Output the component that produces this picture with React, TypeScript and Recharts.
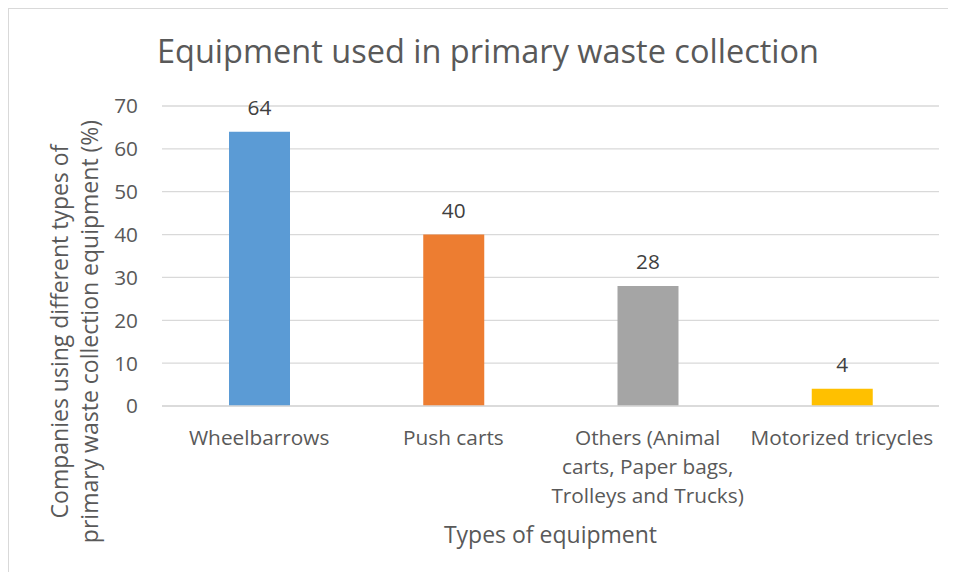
import React from "react";
import {
  BarChart,
  Bar,
  XAxis,
  YAxis,
  CartesianGrid,
  Cell,
  LabelList,
  Customized,
} from "recharts";

const categories = [
  "Wheelbarrows",
  "Push carts",
  "Others (Animal carts, Paper bags, Trolleys and Trucks)",
  "Motorized tricycles",
];
const values = [64, 40, 28, 4];
const barColors = ["#5B9BD5", "#ED7D31", "#A5A5A5", "#FFC000"];
const yTicks = [0, 10, 20, 30, 40, 50, 60, 70];
const chartTitle = "Equipment used in primary waste collection";
const xTitle = "Types of equipment";
const yTitleLines = [
  "Companies using different types of",
  "primary waste collection equipment (%)",
];

const data = categories.map((c, i) => ({ category: c, value: values[i] }));

const FONT = "'Open Sans', Lato, sans-serif";
const TEXT = "#595959";
const W = 947;
const H = 563;
const MARGIN = { top: 97, right: 17, bottom: 0, left: 0 };
const Y_AXIS_W = 153;
const X_AXIS_H = 166;
const TICK_FS = 20.8;
const AXIS_TITLE_FS = 23;

function wrap(label: string, maxChars: number): string[] {
  const words = label.split(" ");
  const lines: string[] = [];
  let cur = "";
  for (const w of words) {
    const next = cur ? cur + " " + w : w;
    if (next.length > maxChars && cur) {
      lines.push(cur);
      cur = w;
    } else {
      cur = next;
    }
  }
  if (cur) lines.push(cur);
  return lines;
}

const XTick = (props: any) => {
  const { x, y, payload } = props;
  const lines = wrap(String(payload.value), 20);
  return (
    <text
      x={x}
      y={y}
      textAnchor="middle"
      fill={TEXT}
      fontSize={TICK_FS}
      fontFamily={FONT}
    >
      {lines.map((l, i) => (
        <tspan key={i} x={x} y={y + 39 + i * 29}>
          {l}
        </tspan>
      ))}
    </text>
  );
};

const Titles = () => {
  const plotLeft = MARGIN.left + Y_AXIS_W;
  const plotRight = W - MARGIN.right;
  const cx = (plotLeft + plotRight) / 2;
  const yc = 322.5;
  return (
    <g fontFamily={FONT} fill={TEXT}>
      <text x={479} y={54} textAnchor="middle" fontSize={32.5} fill={TEXT}>
        {chartTitle}
      </text>
      <text x={cx} y={534} textAnchor="middle" fontSize={AXIS_TITLE_FS} fill={TEXT}>
        {xTitle}
      </text>
      {yTitleLines.map((l, i) => {
        const x = 59 + i * 30;
        return (
          <text
            key={i}
            x={x}
            y={yc}
            transform={`rotate(-90, ${x}, ${yc})`}
            textAnchor="middle"
            fontSize={AXIS_TITLE_FS}
            fill={TEXT}
          >
            {l}
          </text>
        );
      })}
    </g>
  );
};

export default function App() {
  return (
    <div
      style={{
        width: W,
        height: H,
        borderLeft: "1px solid #D9D9D9",
        borderTop: "1px solid #D9D9D9",
        background: "#fff",
      }}
    >
      <BarChart
        width={W}
        height={H}
        data={data}
        margin={MARGIN}
        barCategoryGap={0}
        style={{ fontFamily: FONT }}
      >
        <CartesianGrid
          vertical={false}
          stroke="#D9D9D9"
          strokeWidth={1.3}
        />
        <XAxis
          dataKey="category"
          height={X_AXIS_H}
          tick={<XTick />}
          tickLine={false}
          tickSize={0}
          tickMargin={0}
          axisLine={{ stroke: "#D9D9D9", strokeWidth: 1.3 }}
          interval={0}
        />
        <YAxis
          width={Y_AXIS_W}
          domain={[0, 70]}
          ticks={yTicks}
          tickLine={false}
          tickSize={0}
          tickMargin={24}
          axisLine={false}
          tick={{ fill: TEXT, fontSize: TICK_FS, fontFamily: FONT }}
          interval={0}
        />
        <Bar dataKey="value" barSize={61} isAnimationActive={false}>
          {data.map((d, i) => (
            <Cell key={d.category} fill={barColors[i]} />
          ))}
          <LabelList
            dataKey="value"
            position="top"
            offset={17}
            fill="#404040"
            fontSize={TICK_FS}
            fontFamily={FONT}
          />
        </Bar>
        <Customized component={Titles} />
      </BarChart>
    </div>
  );
}
